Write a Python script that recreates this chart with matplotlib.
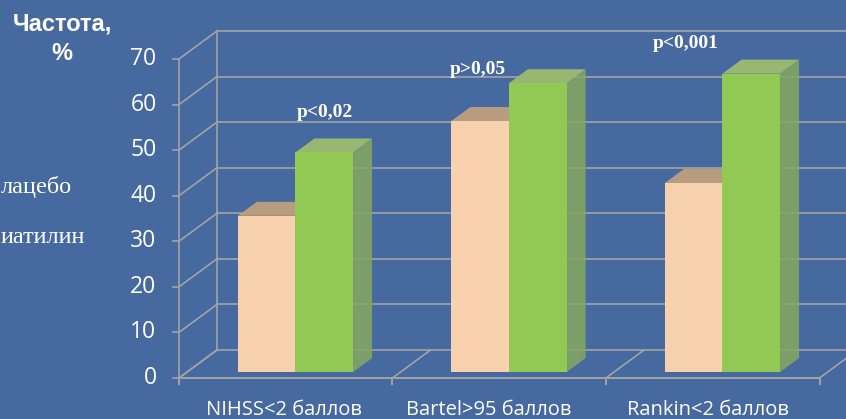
import matplotlib.pyplot as plt
from matplotlib.patches import Polygon

# data
categories = ["NIHSS<2 баллов", "Bartel>95 баллов", "Rankin<2 баллов"]
placebo = [34.3, 55.1, 41.5]
gliatilin = [48.2, 63.4, 65.5]
p_labels = ["p<0,02", "p>0,05", "p<0,001"]
# legend names, only the visible part (slide is cut on the left)
series_names = ["лацебо", "иатилин"]
y_ticks = [0, 10, 20, 30, 40, 50, 60, 70]

BG = "#46699f"
GRID = "#a3a3a3"
PEACH = ("#f7d0ad", "#b89c80", "#c9a98a")
GREEN = ("#92c954", "#98b872", "#86a860")

# 3d look: shift of the back wall in data units
DX, DY = 0.178, 6.14
F0, F1 = 0.21, 0.71      # bar front / back depth
BAR_W = 0.27
BAR_X0 = 0.238

fig = plt.figure(figsize=(8.46, 4.19), dpi=100)
fig.patch.set_facecolor(BG)
ax = fig.add_axes([0, 0, 1, 1])
ax.set_facecolor(BG)
ax.set_xlim(-0.838, 3.124)
ax.set_ylim(-9.0, 82.95)
ax.axis("off")

n = len(categories)

# walls and gridlines
for v in y_ticks:
    ax.plot([DX, n + DX], [v + DY, v + DY], color=GRID, lw=1.2, zorder=1)
    ax.plot([0, DX], [v, v + DY], color=GRID, lw=1.2, zorder=1)
    ax.plot([-0.03, 0], [v, v], color=GRID, lw=1.2, zorder=1)
    ax.text(-0.105, v, str(v), ha="right", va="center", color="white",
            fontsize=16.5, family=["Open Sans", "DejaVu Sans"])
ax.plot([DX, DX], [DY, 70 + DY], color=GRID, lw=1.2, zorder=1)
ax.plot([0, 0], [0, 70], color=GRID, lw=1.2, zorder=1)
ax.plot([0, n], [0, 0], color=GRID, lw=1.4, zorder=1)
for k in range(n + 1):
    ax.plot([k, k + DX], [0, DY], color=GRID, lw=1.2, zorder=1)
    ax.plot([k, k], [0, -1.3], color=GRID, lw=1.4, zorder=1)


def bar3d(x0, v, cols, z):
    front, top, side = cols
    fx, fy = F0 * DX, F0 * DY
    bx, by = F1 * DX, F1 * DY
    x1 = x0 + BAR_W
    ax.add_patch(Polygon([(x1 + fx, fy), (x1 + bx, by), (x1 + bx, v + by), (x1 + fx, v + fy)],
                         closed=True, facecolor=side, edgecolor="none", alpha=0.85, zorder=z))
    ax.add_patch(Polygon([(x0 + fx, v + fy), (x1 + fx, v + fy), (x1 + bx, v + by), (x0 + bx, v + by)],
                         closed=True, facecolor=top, edgecolor="none", zorder=z))
    ax.add_patch(Polygon([(x0 + fx, fy), (x1 + fx, fy), (x1 + fx, v + fy), (x0 + fx, v + fy)],
                         closed=True, facecolor=front, edgecolor="none", zorder=z + 0.1))


for i in range(n):
    bar3d(i + BAR_X0, placebo[i], PEACH, 2 + i)
    bar3d(i + BAR_X0 + BAR_W, gliatilin[i], GREEN, 2.5 + i)

# category labels
label_nudge = [-0.01, -0.05, -0.02]
for i, c in enumerate(categories):
    ax.text(i + 0.5 + label_nudge[i], -7.0, c, ha="center", va="center", color="white",
            fontsize=14.5, family=["Open Sans", "DejaVu Sans"])

# p-values
p_pos = [(0.684, 58.2), (1.40, 67.6), (2.375, 73.3)]
for (px, py), t in zip(p_pos, p_labels):
    ax.text(px, py, t, ha="center", va="center", color="white", fontsize=14,
            fontweight="bold", family="Liberation Serif")

fig.text(62 / 846, 1 - 39 / 419, "Частота,\n%", ha="center", va="center", color="white",
         fontsize=17, fontweight="bold", family="Liberation Sans", linespacing=1.35)

fig.text(1 / 846, 1 - 187 / 419, series_names[0], ha="left", va="center", color="white",
         fontsize=17.5, family="Liberation Serif")
fig.text(1 / 846, 1 - 237 / 419, series_names[1], ha="left", va="center", color="white",
         fontsize=17.5, family="Liberation Serif")

fig.savefig("out.png", dpi=100, facecolor=BG)
